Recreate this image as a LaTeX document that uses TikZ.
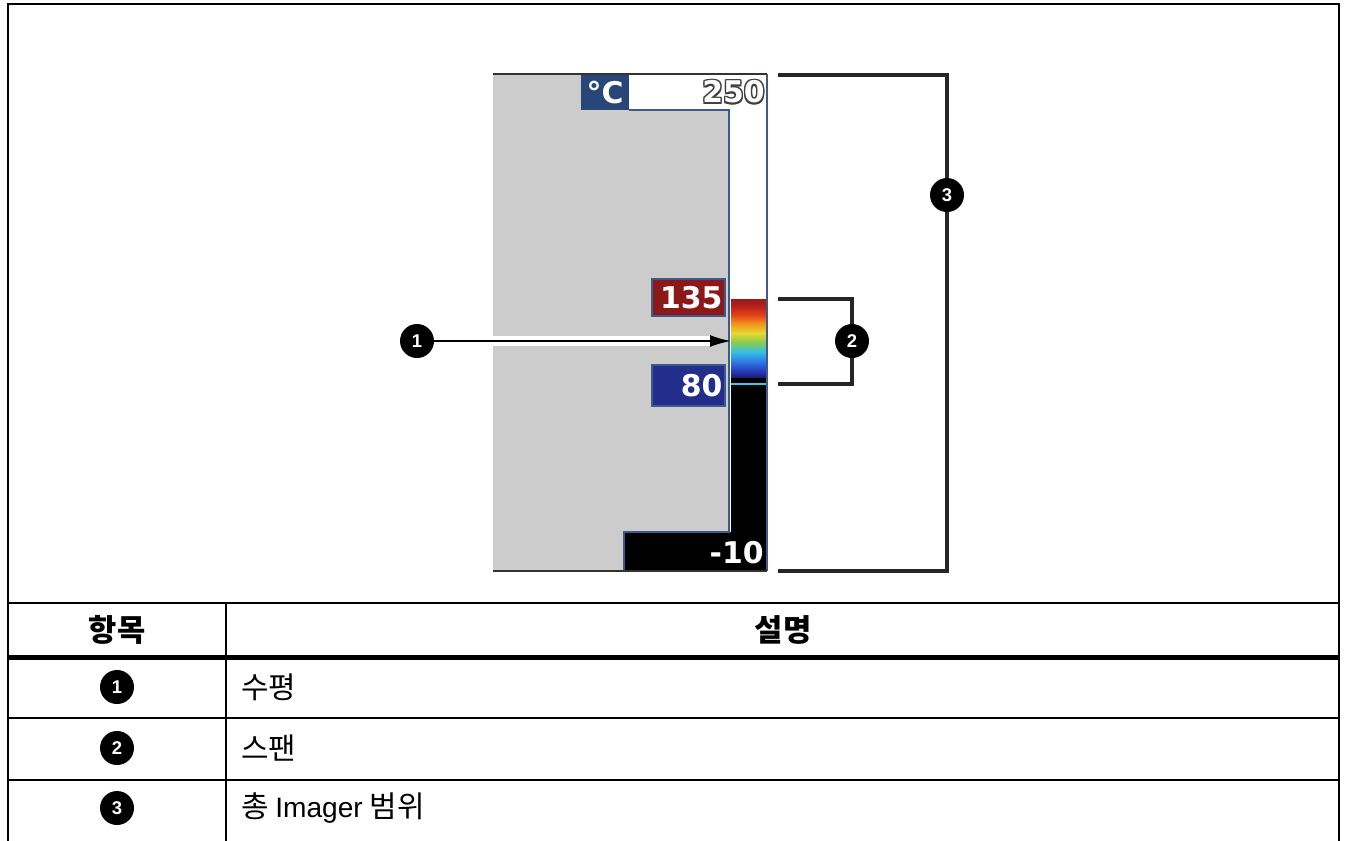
\documentclass[tikz,border=0pt]{standalone}
\usepackage{fontspec}
\setmainfont{Liberation Sans}
\newfontfamily\krfont{Noto Sans CJK KR}
\newfontfamily\lcdfont{DejaVu Sans}
\usetikzlibrary{positioning,calc,arrows.meta}

\definecolor{lcdgray}{RGB}{204,204,204}
\definecolor{lcdedge}{RGB}{60,90,140}
\definecolor{unitblue}{RGB}{40,70,120}
\definecolor{lowblue}{RGB}{35,45,140}
\definecolor{highred}{RGB}{140,25,25}
\definecolor{spancyan}{RGB}{60,200,230}
\pgfdeclareverticalshading{ironbow}{100bp}{%
  rgb(0bp)=(0.10,0.10,0.45); rgb(25bp)=(0.10,0.10,0.45);
  rgb(30bp)=(0.15,0.25,0.75); rgb(36bp)=(0.20,0.50,0.90);
  rgb(41.5bp)=(0.20,0.75,0.90); rgb(47.8bp)=(0.55,0.80,0.30);
  rgb(53.5bp)=(0.90,0.85,0.20); rgb(60bp)=(0.95,0.55,0.10);
  rgb(65bp)=(0.88,0.25,0.10); rgb(71bp)=(0.70,0.12,0.10);
  rgb(75bp)=(0.60,0.10,0.10); rgb(100bp)=(0.60,0.10,0.10)}

\begin{document}
\begin{tikzpicture}[x=0.02cm,y=-0.02cm,
  callout/.style={circle, fill=black, text=white, inner sep=0pt, minimum size=0.68cm,
    font=\bfseries\fontsize{10.5pt}{10.5pt}\selectfont},
  readout/.style={draw=lcdedge, line width=0.6pt, text=white, inner sep=0.05cm,
    text width=1.36cm, align=right, font=\lcdfont\bfseries\fontsize{17pt}{17pt}\selectfont},
  lcdtext/.style={font=\lcdfont\bfseries\fontsize{17pt}{17pt}\selectfont, inner sep=0pt},
  bracket/.style={line width=0.07cm, draw=black!85},
  rule/.style={line width=0.04cm},
  cell/.style={font=\krfont\fontsize{17pt}{17pt}\selectfont}]
  \clip (0,0) rectangle (1345,840);
  \fill[white] (0,0) rectangle (1345,840);

  % display
  \fill[lcdgray] (493,74) -- (581,74) -- (581,110) -- (729,110) -- (729,532)
    -- (624,532) -- (624,571) -- (493,571) -- cycle;
  \fill[unitblue] (581,74) rectangle (629,110);
  \shade[shading=ironbow] (731,299) rectangle (766,378);
  \fill[black] (731,378) rectangle (766,532);
  \fill[black] (624,532) rectangle (767,571);
  \draw[spancyan, line width=0.6pt] (731,384) -- (766,384);
  \draw[lcdedge, line width=0.8pt] (629,110) -- (729,110) -- (729,532) -- (624,532) -- (624,571);
  \draw[lcdedge, line width=0.9pt] (767,74) -- (767,571);
  \draw[black!80, line width=0.7pt] (493,74) -- (767,74);
  \draw[black!80, line width=0.7pt] (493,571) -- (767,571);

  \node[lcdtext, text=white] (unit) at (605,93) {°C};
  \foreach \dx in {-0.7,0,0.7}
    \foreach \dy in {-0.7,0,0.7}
      \node[lcdtext, text=black!75, anchor=east, xshift=\dx pt, yshift=\dy pt] at (765,92) {250};
  \node[lcdtext, text=white, anchor=east] (max) at (765,92) {250};
  \node[readout, fill=highred, minimum height=0.74cm] (high) at (688.5,297.5) {135};
  \node[readout, fill=lowblue, minimum height=0.82cm] (low) at (688.5,385.5) {80};
  \node[lcdtext, text=white, anchor=east] (min) at (764,553) {-10};

  % callouts
  \node[callout] (c1) at (417,341) {1};
  \node[callout] (c2) at (852,341) {2};
  \node[callout] (c3) at (947,195) {3};
  \coordinate (level) at (731,341);
  \coordinate (halo) at (710,341);
  \coordinate (s2top) at (778,299);
  \coordinate (s2bot) at (778,384);
  \coordinate (s3top) at (778,75);
  \coordinate (s3bot) at (778,571);
  \draw[white, line width=0.2cm] (c1.east) -- (halo);
  \draw[-{Latex[length=0.42cm,width=0.24cm]}, line width=0.04cm] (c1) -- (level);
  \draw[bracket] (s2top) -| (c2.north);
  \draw[bracket] (s2bot) -| (c2.south);
  \draw[bracket] (s3top) -| (c3.north);
  \draw[bracket] (s3bot) -| (c3.south);

  % table
  \draw[rule] (8,850) -- (8,4) -- (1339,4) -- (1339,850);
  \foreach \y in {603,718,780}
    \draw[rule] (8,\y) -- (1339,\y);
  \draw[line width=0.11cm] (8,657.5) -- (1339,657.5);
  \draw[rule] (226,603) -- (226,850);
  \node[cell, font=\krfont\bfseries\fontsize{17.5pt}{17.5pt}\selectfont] (item) at (117,630) {항목};
  \node[cell, font=\krfont\bfseries\fontsize{17.5pt}{17.5pt}\selectfont] (desc) at (783,630) {설명};
  \foreach \n/\y/\txt in {1/687/수평, 2/748/스팬, 3/808/{총 {\rmfamily\fontsize{16pt}{16pt}\selectfont Imager} 범위}} {
    \node[callout] (t\n) at (117,\y) {\n};
    \node[cell, anchor=west] (d\n) at (235,\y) {\txt};
  }
\end{tikzpicture}
\end{document}
